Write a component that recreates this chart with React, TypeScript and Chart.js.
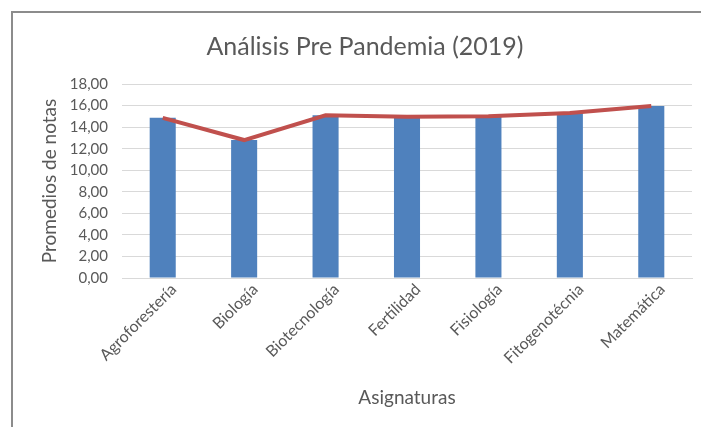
import React, { useEffect, useRef } from "react";
import { Chart, registerables } from "chart.js";

Chart.register(...registerables);

const categories = [
  "Agroforestería",
  "Biología",
  "Biotecnología",
  "Fertilidad",
  "Fisiología",
  "Fitogenotécnia",
  "Matemática",
];
const promedios = [14.86, 12.8, 15.1, 14.95, 15.0, 15.3, 15.95];
const yTicks = [0, 2, 4, 6, 8, 10, 12, 14, 16, 18];

const TXT = "#595959";
const FONT = "Lato, 'Open Sans', sans-serif";

export default function App() {
  const ref = useRef<HTMLCanvasElement | null>(null);
  useEffect(() => {
    document.body.style.margin = "0";
    if (!ref.current) return;
    const chart = new Chart(ref.current, {
      type: "bar",
      data: {
        labels: categories,
        datasets: [
          {
            type: "line",
            label: "Tendencia",
            data: promedios,
            borderColor: "#C0504D",
            borderWidth: 4,
            pointRadius: 0,
            tension: 0,
            order: 0,
          },
          {
            type: "bar",
            label: "Promedio",
            data: promedios,
            backgroundColor: "#4F81BD",
            categoryPercentage: 1,
            barPercentage: 0.32,
            order: 1,
          },
        ],
      },
      options: {
        responsive: false,
        animation: false,
        layout: { padding: { left: 38, right: 38, top: 0, bottom: 0 } },
        plugins: {
          legend: { display: false },
          tooltip: { enabled: false },
          title: {
            display: true,
            text: "Análisis Pre Pandemia (2019)",
            color: TXT,
            font: { family: FONT, size: 25, weight: "normal" },
            padding: { top: 32, bottom: 22 },
          },
        },
        scales: {
          x: {
            grid: { display: false, drawTicks: false },
            border: { display: true, color: "#d9d9d9", width: 1 },
            ticks: {
              color: TXT,
              font: { family: FONT, size: 16 },
              minRotation: 45,
              maxRotation: 45,
              padding: 2,
              labelOffset: 11,
            },
            title: {
              display: true,
              text: "Asignaturas",
              color: TXT,
              font: { family: FONT, size: 19 },
              padding: { top: 0, bottom: 18 },
            },
            afterFit: (s: any) => {
              s.height = 149;
            },
          },
          y: {
            min: 0,
            max: 18,
            afterBuildTicks: (s: any) => {
              s.ticks = yTicks.map((v) => ({ value: v }));
            },
            grid: { color: "#d9d9d9", drawTicks: false, lineWidth: 1 },
            border: { display: false },
            ticks: {
              color: TXT,
              font: { family: FONT, size: 15 },
              padding: 14,
              callback: (v: any) => Number(v).toFixed(2).replace(".", ","),
            },
            title: {
              display: true,
              text: "Promedios de notas",
              color: TXT,
              font: { family: FONT, size: 19 },
              padding: { top: 0, bottom: 0 },
            },
            afterFit: (s: any) => {
              s.width = 122 - 38;
            },
          },
        },
      },
    });
    return () => chart.destroy();
  }, []);

  return (
    <div
      style={{
        position: "fixed",
        left: 0,
        top: 0,
        width: 701,
        height: 427,
        overflow: "hidden",
        background: "#fff",
      }}
    >
      <canvas
        ref={ref}
        width={730}
        height={427}
        style={{ position: "absolute", left: 0, top: 0, width: 730, height: 427 }}
      />
      <div
        style={{
          position: "absolute",
          left: 11,
          top: 11,
          width: 760,
          height: 460,
          border: "2px solid #8c8c8c",
          pointerEvents: "none",
        }}
      />
    </div>
  );
}
